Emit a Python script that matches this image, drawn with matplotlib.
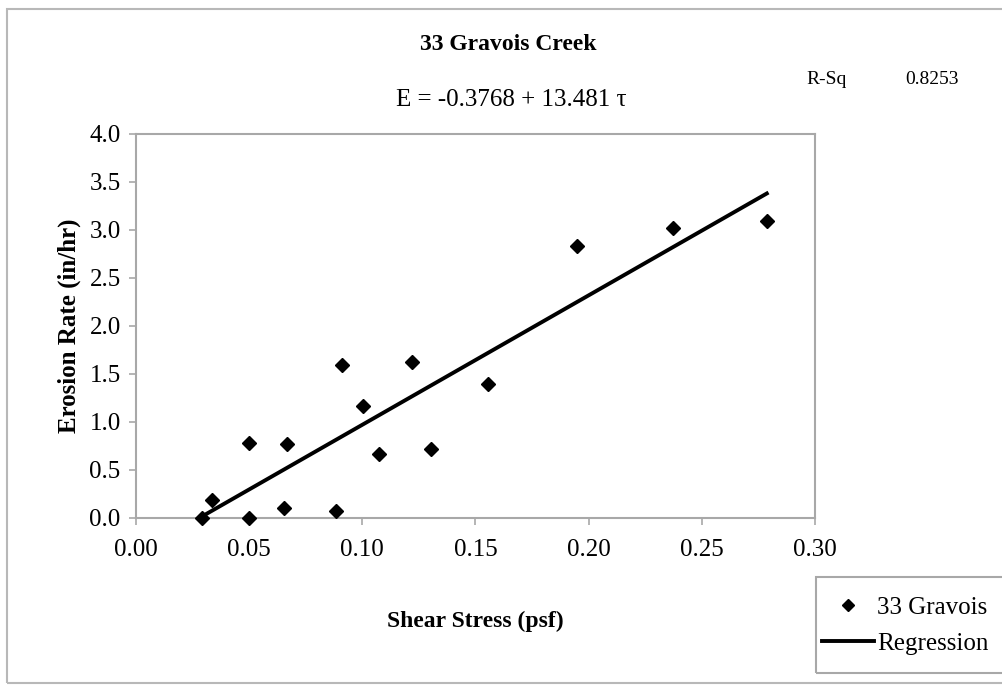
import matplotlib.pyplot as plt
from matplotlib.lines import Line2D
from matplotlib.patches import Rectangle
import numpy as np

plt.rcParams['font.family'] = ['Liberation Serif', 'DejaVu Serif']

# shear stress (psf) and erosion rate (in/hr)
shear = [0.029, 0.0337, 0.050, 0.050, 0.0655, 0.0669, 0.0882, 0.0912,
         0.1003, 0.1072, 0.1218, 0.1305, 0.1557, 0.195, 0.2372, 0.2787]
erosion = [0.0, 0.19, 0.78, 0.0, 0.10, 0.77, 0.076, 1.59,
           1.17, 0.67, 1.63, 0.72, 1.40, 2.83, 3.02, 3.09]

intercept = -0.3768
slope = 13.481
r_sq = 0.8253

x_ticks = [0.00, 0.05, 0.10, 0.15, 0.20, 0.25, 0.30]
y_ticks = [0.0, 0.5, 1.0, 1.5, 2.0, 2.5, 3.0, 3.5, 4.0]

W, H = 1003, 685
fig = plt.figure(figsize=(W / 100, H / 100), dpi=100)
ax = fig.add_axes([136 / W, 1 - 518 / H, 679 / W, 384 / H])

grey = '#a8a8a8'

ax.plot(shear, erosion, linestyle='none', marker='D', markersize=7,
        color='black', label='33 Gravois', clip_on=False, zorder=3)

x_fit = np.array([min(shear), max(shear)])
y_fit = intercept + slope * x_fit
ax.plot(x_fit, y_fit, color='black', linewidth=2.8, label='Regression',
        clip_on=False, zorder=3)

ax.set_xlim(0, 0.30)
ax.set_ylim(0, 4.0)
ax.set_xticks(x_ticks)
ax.set_yticks(y_ticks)
ax.set_xticklabels(['%.2f' % v for v in x_ticks])
ax.set_yticklabels(['%.1f' % v for v in y_ticks])
ax.tick_params(axis='both', direction='out', length=5, width=1.2, color=grey,
               labelsize=18, pad=6)
ax.tick_params(axis='x', pad=10)
for s in ax.spines.values():
    s.set_color(grey)
    s.set_linewidth(1.5)

ax.set_xlabel('Shear Stress (psf)', fontsize=17, fontweight='bold', labelpad=36)
ax.set_ylabel('Erosion Rate (in/hr)', fontsize=18, fontweight='bold', labelpad=6)

fig.text(508 / W, 1 - 45 / H, '33 Gravois Creek', ha='center', va='center',
         fontsize=17, fontweight='bold')
fig.text(511 / W, 1 - 100 / H, 'E = %.4f + %.3f τ' % (intercept, slope),
         ha='center', va='center', fontsize=18)
fig.text(806 / W, 1 - 80 / H, 'R-Sq', ha='left', va='center', fontsize=14)
fig.text(905 / W, 1 - 80 / H, '%.4f' % r_sq, ha='left', va='center', fontsize=14)

# outer chart border
fig.patches.append(Rectangle((7 / W, 1 - 683 / H), 1.2, (683 - 9) / H,
                             transform=fig.transFigure, fill=False,
                             edgecolor='#b8b8b8', linewidth=1.5))

# legend box, running off the right edge as in the original
fig.patches.append(Rectangle((816 / W, 1 - 673 / H), 1.0, (673 - 577) / H,
                             transform=fig.transFigure, fill=False,
                             edgecolor=grey, linewidth=1.5))

handles = [Line2D([], [], linestyle='none', marker='D', markersize=6, color='black'),
           Line2D([], [], color='black', linewidth=2.8)]
leg = fig.legend(handles, ['33 Gravois', 'Regression'], loc='upper left',
                 bbox_to_anchor=(822 / W, 1 - 596 / H), borderaxespad=0,
                 fontsize=18, handlelength=2.1, handletextpad=0.1,
                 labelspacing=0.56, borderpad=0, frameon=False)

fig.savefig('out.png', dpi=100)
